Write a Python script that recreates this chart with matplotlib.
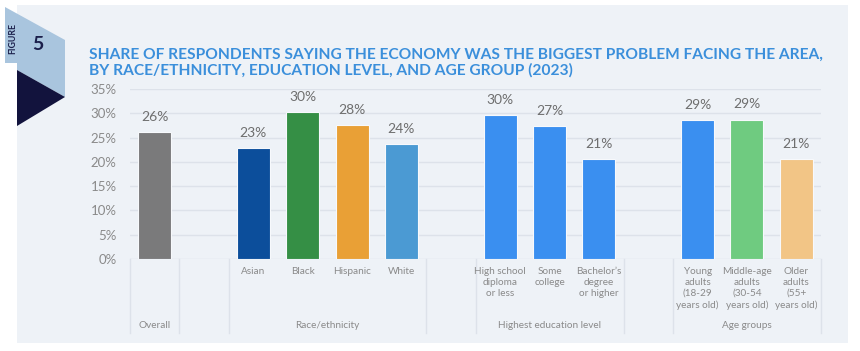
import matplotlib
matplotlib.use("Agg")
import matplotlib.pyplot as plt
from matplotlib.patches import Polygon, Rectangle
from matplotlib.lines import Line2D
import matplotlib.transforms as mtransforms

plt.rcParams['font.family'] = ['Lato', 'DejaVu Sans']

# ---- data ----
groups = ["Overall", "Race/ethnicity", "Highest education level", "Age groups"]
group_sizes = [1, 4, 3, 3]
categories = ["", "Asian", "Black", "Hispanic", "White",
              "High school\ndiploma\nor less", "Some\ncollege", "Bachelor\u2019s\ndegree\nor higher",
              "Young\nadults\n(18-29\nyears old)", "Middle-age\nadults\n(30-54\nyears old)",
              "Older\nadults\n(55+\nyears old)"]
values = [26.2, 22.9, 30.2, 27.6, 23.6, 29.7, 27.3, 20.6, 28.6, 28.7, 20.6]
colors = ["#7a7a7b", "#0c4e9b", "#358f45", "#e9a036", "#4b9ad3",
          "#3a8ff0", "#3a8ff0", "#3a8ff0", "#3a8ff0", "#6fcb80", "#f2c586"]
yticks = [0, 5, 10, 15, 20, 25, 30, 35]
title = ("SHARE OF RESPONDENTS SAYING THE ECONOMY WAS THE BIGGEST PROBLEM FACING THE AREA,\n"
         "BY RACE/ETHNICITY, EDUCATION LEVEL, AND AGE GROUP (2023)")

W, H = 860, 351
fig = plt.figure(figsize=(W / 100, H / 100), dpi=100)
fig.patch.set_facecolor("white")

def fx(x):
    return x / W

def fy(y):
    return 1 - y / H

# panel background
fig.patches.append(Rectangle((fx(17), fy(343)), fx(848) - fx(17), fy(5) - fy(343),
                             transform=fig.transFigure, facecolor="#eef2f7", edgecolor="none", zorder=-5))
# figure badge
light = [(5, 7), (65, 40), (65, 97), (17, 70), (17, 63), (5, 63)]
navy = [(17, 70), (65, 97), (17, 126)]
fig.patches.append(Polygon([(fx(a), fy(b)) for a, b in light], closed=True, transform=fig.transFigure,
                           facecolor="#a9c5de", edgecolor="none", zorder=1))
fig.patches.append(Polygon([(fx(a), fy(b)) for a, b in navy], closed=True, transform=fig.transFigure,
                           facecolor="#12133d", edgecolor="none", zorder=1))
fig.text(fx(13), fy(38), "FIGURE", rotation=90, ha="center", va="center", fontsize=6.3,
         fontweight="bold", color="#1b1f4b")
fig.text(fx(38), fy(45), "5", ha="center", va="center", fontsize=14, fontweight="bold", color="#1b1f4b")

# title
fig.text(fx(89), fy(47.5), title, ha="left", va="top", fontsize=11.2, fontweight="bold",
         color="#3b8fdb", linespacing=1.15)

# axes
ax = fig.add_axes([fx(130), fy(259), fx(821) - fx(130), fy(89) - fy(259)])
ax.set_facecolor("none")
for s in ax.spines.values():
    s.set_visible(False)

# positions
positions = []
bounds = []
group_centers = []
p = 0
for gi, n in enumerate(group_sizes):
    start = p
    bounds.append(start - 0.5)
    positions.extend(range(start, start + n))
    bounds.append(start + n - 0.5)
    group_centers.append(start + (n - 1) / 2)
    p = start + n + 1

ax.set_xlim(-0.5, positions[-1] + 0.5)
ax.set_ylim(0, 35)
ax.set_yticks(yticks)
ax.set_yticklabels([f"{t}%" for t in yticks])
ax.tick_params(axis="y", length=0, pad=9.5, labelsize=9.5, labelcolor="#8a8a8a")
ax.set_xticks([])
ax.grid(axis="y", color="#dde2ea", linewidth=1)
ax.set_axisbelow(True)

bars = ax.bar(positions, values, width=0.67, color=colors, edgecolor="#f7f9fc", linewidth=0.8, zorder=3)
for x, v in zip(positions, values):
    ax.annotate(f"{v:.0f}%", (x, v), xytext=(0, 8), textcoords="offset points",
                ha="center", va="baseline", fontsize=10, color="#6e6e6e")

blend = mtransforms.blended_transform_factory(ax.transData, fig.transFigure)
for b in sorted(set(bounds)):
    fig.lines.append(Line2D([b, b], [fy(259), fy(333)], transform=blend, color="#dde2ea", linewidth=1))

for x, lab in zip(positions, categories):
    if lab:
        fig.text(x, fy(266.5), lab, transform=blend, ha="center", va="top", fontsize=7.2,
                 color="#8a8a8a", linespacing=1.32)
for c, g in zip(group_centers, groups):
    fig.text(c, fy(326), g, transform=blend, ha="center", va="center", fontsize=7.2, color="#8a8a8a")

fig.savefig("out.png", dpi=100, facecolor="white")
